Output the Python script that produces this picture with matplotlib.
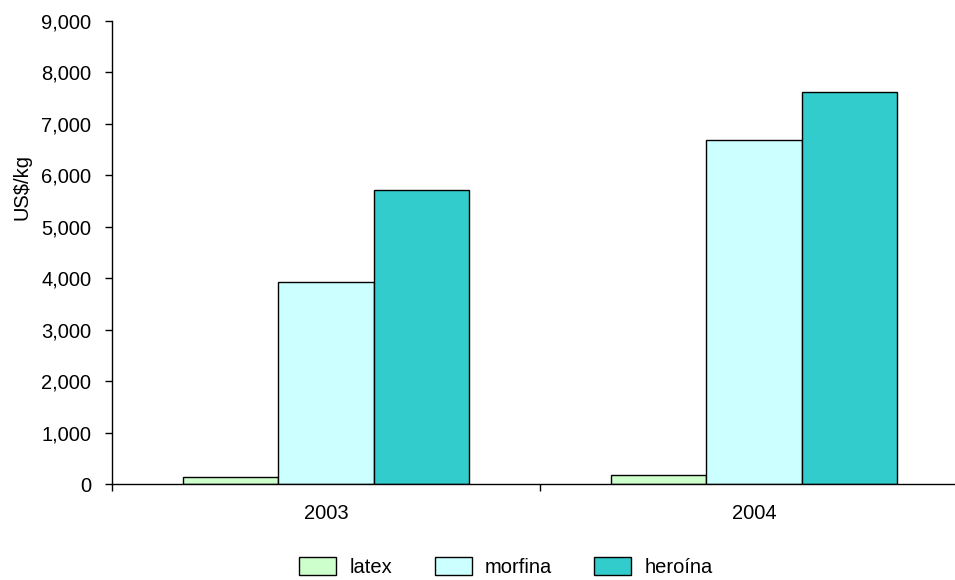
import matplotlib
matplotlib.use("Agg")
import matplotlib.pyplot as plt
import numpy as np
from matplotlib.ticker import FuncFormatter

years = ["2003", "2004"]
series = ["latex", "morfina", "heroína"]
latex = [150, 175]
morfina = [3930, 6680]
heroina = [5720, 7625]
colors = ["#CCFFCC", "#CCFFFF", "#33CCCC"]

plt.rcParams['font.family'] = ['Liberation Sans', 'DejaVu Sans']
plt.rcParams['font.size'] = 14.5

fig = plt.figure(figsize=(9.55, 5.8), dpi=100)
ax = fig.add_axes([112/955, (580-484.3)/580, (968-112)/955, (484.3-20.7)/580])

x = np.arange(len(years))
w = 0.222
for i, (vals, lab, c) in enumerate(zip([latex, morfina, heroina], series, colors)):
    ax.bar(x + (i - 1) * w, vals, width=w, color=c, edgecolor="black", linewidth=1.0, label=lab)

ax.set_xlim(-0.5, 1.5)
ax.set_ylim(0, 9000)
ax.set_yticks(np.arange(0, 9001, 1000))
ax.yaxis.set_major_formatter(FuncFormatter(lambda v, p: f"{int(v):,}"))
ax.set_xticks([-0.5, 0.5, 1.5])
ax.set_xticklabels([])
ax.set_xticks(x, minor=True)
ax.set_xticklabels(years, minor=True)
ax.tick_params(axis='x', which='minor', length=0, pad=14)
ax.tick_params(axis='x', which='major', length=5, direction='out', width=1)
ax.tick_params(axis='y', length=5, direction='out', width=1, pad=10)
for s in ["top", "right"]:
    ax.spines[s].set_visible(False)
for s in ["left", "bottom"]:
    ax.spines[s].set_linewidth(1.0)
ax.set_ylabel("US$/kg")
ax.yaxis.set_label_coords((31 - 112) / 856, (484.3 - 187) / 463.6)

fig.legend(loc='upper center', bbox_to_anchor=(506/955, 1 - 547/580), ncol=3, frameon=False,
           handlelength=1.84, handleheight=1.0, handletextpad=0.65, columnspacing=2.1, borderpad=0,
           fontsize=14.5)

fig.savefig("out.png", dpi=100)
